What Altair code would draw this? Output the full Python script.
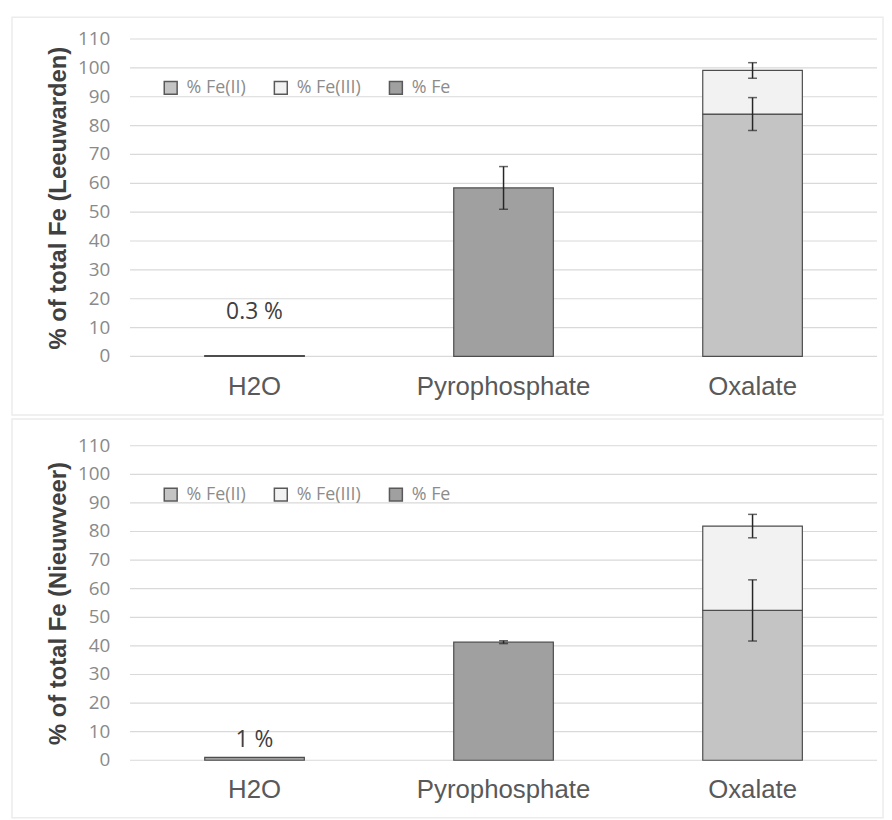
import altair as alt
import pandas as pd

categories = ["H2O", "Pyrophosphate", "Oxalate"]
series_names = ["% Fe(II)", "% Fe(III)", "% Fe"]
series_fills = ["#c4c4c4", "#f2f2f2", "#a0a0a0"]

bar_category = ["H2O", "Pyrophosphate", "Oxalate", "Oxalate"]
bar_series = ["% Fe", "% Fe", "% Fe(II)", "% Fe(III)"]

leeu_values = [0.3, 58.4, 84.0, 15.1]
leeu_errors = [0.0, 7.4, 5.7, 2.7]
nieu_values = [1.0, 41.3, 52.4, 29.5]
nieu_errors = [0.0, 0.5, 10.7, 4.1]

leeu_label = ["0.3 %"]
nieu_label = ["1 %"]

y_ticks = list(range(0, 111, 10))


def panel(values, errors, ytitle, label, label_value, label_dy, height, fy, fy2):
    df = pd.DataFrame({"category": bar_category, "series": bar_series,
                       "value": values, "err": errors})
    df["top"] = df.groupby("category")["value"].cumsum()
    df["base"] = df["top"] - df["value"]
    df["lo"] = df["top"] - df["err"]
    df["hi"] = df["top"] + df["err"]
    err_df = df[df["err"] > 0]
    tick_df = pd.DataFrame({"tick": y_ticks})

    xscale = alt.Scale(paddingInner=0.6, paddingOuter=0.3)
    xaxis = alt.Axis(title=None, labelAngle=0, labelFont="Liberation Sans",
                     labelFontSize=26, labelColor="#595959", labelPadding=17,
                     labelLimit=0, ticks=False, domain=False, grid=False)
    x = alt.X("category:N", sort=categories, scale=xscale, axis=xaxis)
    yscale = alt.Scale(domain=[0, 110], nice=False, zero=True)
    yaxis = alt.Axis(title=ytitle, labels=False, ticks=False, domain=False, grid=False,
                     titleFont="Liberation Sans", titleFontSize=24,
                     titleFontWeight="bold", titleColor="#404040", titlePadding=60)

    def Y(field):
        return alt.Y(field, type="quantitative", scale=yscale, axis=yaxis)

    legend = alt.Legend(orient="none", legendX=32, legendY=40, direction="horizontal",
                        title=None, symbolType="square", symbolSize=169,
                        labelFont="Open Sans", labelFontSize=18, labelColor="#8c8c8c",
                        columnPadding=25, labelOffset=7, symbolStrokeColor="#595959",
                        symbolStrokeWidth=1.5)

    frame = alt.Chart(pd.DataFrame({"f": [0]})).mark_rect(
        fillOpacity=0, stroke="#ececec", strokeWidth=1.5).encode(
        x=alt.value(-119), x2=alt.value(759), y=alt.value(fy), y2=alt.value(fy2))

    tbase = alt.Chart(tick_df)
    grid = tbase.mark_rule(color="#d9d9d9", strokeWidth=1.2).encode(y=Y("tick"))
    tick_labels = tbase.mark_text(align="right", baseline="middle", font="Open Sans",
                                  fontSize=19, color="#8a8a8a").encode(
        y=Y("tick"), x=alt.value(-20), text="tick:Q")

    bars = alt.Chart(df).mark_bar(stroke="#4d4d4d", strokeWidth=1.2).encode(
        x=x,
        y=Y("base"),
        y2="top:Q",
        color=alt.Color("series:N", scale=alt.Scale(domain=series_names, range=series_fills),
                        legend=legend),
    )
    ebase = alt.Chart(err_df)
    rules = ebase.mark_rule(color="#262626", strokeWidth=1.5).encode(
        x=x, y=Y("lo"), y2="hi:Q")
    tick_lo = ebase.mark_tick(color="#262626", size=9, thickness=1.5).encode(
        x=x, y=Y("lo"))
    tick_hi = ebase.mark_tick(color="#262626", size=9, thickness=1.5).encode(
        x=x, y=Y("hi"))
    ann = alt.Chart(pd.DataFrame({"category": ["H2O"], "value": [label_value], "text": label})).mark_text(
        font="Open Sans", fontSize=23, color="#404040", dy=label_dy, baseline="middle").encode(
        x=x, y=Y("value"), text="text:N")
    return alt.layer(frame, grid, tick_labels, bars, rules, tick_lo, tick_hi, ann).properties(
        width=753, height=height)


top = panel(leeu_values, leeu_errors, "% of total Fe (Leeuwarden)", leeu_label,
            leeu_values[0], -44, 320, -22, 379)
bottom = panel(nieu_values, nieu_errors, "% of total Fe (Nieuwveer)", nieu_label,
               nieu_values[0], -17, 317, -27, 375)

chart = alt.vconcat(top, bottom, spacing=2).resolve_scale(color="independent").resolve_legend(
    color="independent").properties(padding={"left": 3, "top": 5, "right": 0, "bottom": 0}
).configure_view(stroke=None)

chart.save("out.html", embed_options={"renderer": "svg", "actions": False})
